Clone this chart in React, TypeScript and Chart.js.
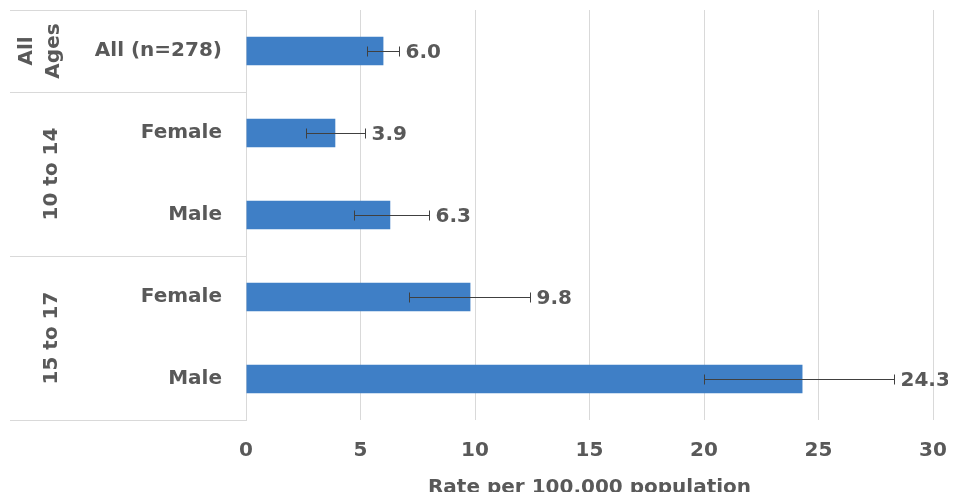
import React, { useEffect, useRef } from "react";
import { Chart, registerables } from "chart.js";

Chart.register(...registerables);

// Rows, top to bottom
const categories = ["All (n=278)", "Female", "Male", "Female", "Male"];
const rates = [6.0, 3.9, 6.3, 9.8, 24.3];
const ciLow = [5.3, 2.6, 4.7, 7.1, 20.0];
const ciHigh = [6.7, 5.2, 8.0, 12.4, 28.3];

// Age groups spanning the rows (first row index, last row index)
const groupNames = [["All", "Ages"], ["10 to 14"], ["15 to 17"]];
const groupFirst = [0, 1, 3];
const groupLast = [0, 2, 4];

const xTicks = [0, 5, 10, 15, 20, 25, 30];
const axisTitle = "Rate per 100,000 population";

const FONT = "'DejaVu Sans', Verdana, sans-serif";
const TEXT = "#595959";
const LINE = "#D9D9D9";
const BAR = "#3F7FC6";

const overlay = {
  id: "overlay",
  afterDatasetsDraw(chart: any) {
    const { ctx, chartArea, scales } = chart;
    const x = scales.x;
    const y = scales.y;
    const step = y.getPixelForValue(1) - y.getPixelForValue(0);

    // error bars and value labels
    ctx.save();
    ctx.strokeStyle = "#404040";
    ctx.lineWidth = 1;
    rates.forEach((v, i) => {
      const py = Math.round(y.getPixelForValue(i)) + 0.5;
      const x1 = Math.round(x.getPixelForValue(ciLow[i])) + 0.5;
      const x2 = Math.round(x.getPixelForValue(ciHigh[i])) + 0.5;
      ctx.beginPath();
      ctx.moveTo(x1, py);
      ctx.lineTo(x2, py);
      ctx.moveTo(x1, py - 5);
      ctx.lineTo(x1, py + 5);
      ctx.moveTo(x2, py - 5);
      ctx.lineTo(x2, py + 5);
      ctx.stroke();

      ctx.fillStyle = TEXT;
      ctx.font = `bold 20px ${FONT}`;
      ctx.textAlign = "left";
      ctx.textBaseline = "middle";
      ctx.fillText(v.toFixed(1), x2 + 6, py + 1);
    });
    ctx.restore();

    // group separators and rotated group labels
    ctx.save();
    ctx.strokeStyle = LINE;
    ctx.lineWidth = 1;
    const bounds = [chartArea.top];
    groupLast.forEach((last) => bounds.push(y.getPixelForValue(last) + step / 2));
    bounds.forEach((b) => {
      const yy = Math.round(b) + 0.5;
      ctx.beginPath();
      ctx.moveTo(2, yy);
      ctx.lineTo(chartArea.left, yy);
      ctx.stroke();
    });

    ctx.fillStyle = TEXT;
    ctx.font = `bold 20px ${FONT}`;
    ctx.textAlign = "center";
    ctx.textBaseline = "middle";
    groupNames.forEach((lines, g) => {
      const top = y.getPixelForValue(groupFirst[g]) - step / 2;
      const bottom = y.getPixelForValue(groupLast[g]) + step / 2;
      const cy = (top + bottom) / 2;
      const n = lines.length;
      const lh = 27;
      const cx = 44 - (n - 1) * 12;
      ctx.save();
      ctx.translate(cx, cy);
      ctx.rotate(-Math.PI / 2);
      lines.forEach((t, k) => {
        ctx.fillText(t, 0, (k - (n - 1) / 2) * lh);
      });
      ctx.restore();
    });

    // axis title
    ctx.fillText(axisTitle, (chartArea.left + chartArea.right) / 2, 480);
    ctx.restore();
  },
};

export default function App() {
  const ref = useRef<HTMLCanvasElement>(null);

  useEffect(() => {
    const canvas = ref.current;
    if (!canvas) return;
    const chart = new Chart(canvas, {
      type: "bar",
      data: {
        labels: categories,
        datasets: [
          {
            data: rates,
            backgroundColor: BAR,
            borderWidth: 0,
            barPercentage: 0.35,
            categoryPercentage: 1,
          },
        ],
      },
      options: {
        indexAxis: "y",
        animation: false,
        responsive: false,
        maintainAspectRatio: false,
        layout: { padding: { top: 2, right: 15, left: 0, bottom: 0 } },
        plugins: {
          legend: { display: false },
          title: { display: false },
          tooltip: { enabled: false },
        },
        scales: {
          x: {
            type: "linear",
            min: 0,
            max: 30,
            afterBuildTicks: (s: any) => {
              s.ticks = xTicks.map((v) => ({ value: v }));
            },
            afterFit: (s: any) => {
              s.height = 80;
              s.paddingLeft = 0;
              s.paddingRight = 0;
            },
            grid: { color: LINE, lineWidth: 1, drawTicks: false },
            border: { display: false },
            ticks: {
              color: TEXT,
              font: { family: FONT, size: 20, weight: "bold" },
              padding: 19,
            },
          },
          y: {
            type: "category",
            afterFit: (s: any) => {
              s.width = 238;
              s.paddingTop = 0;
              s.paddingBottom = 0;
            },
            grid: { display: false, drawTicks: false },
            border: { display: true, color: LINE, width: 1 },
            ticks: {
              color: TEXT,
              font: { family: FONT, size: 20, weight: "bold" },
              padding: 24,
            },
          },
        },
      },
      plugins: [overlay],
    });
    return () => chart.destroy();
  }, []);

  return (
    <canvas
      ref={ref}
      width={940}
      height={492}
      style={{ display: "block", marginBottom: -8 }}
    />
  );
}
